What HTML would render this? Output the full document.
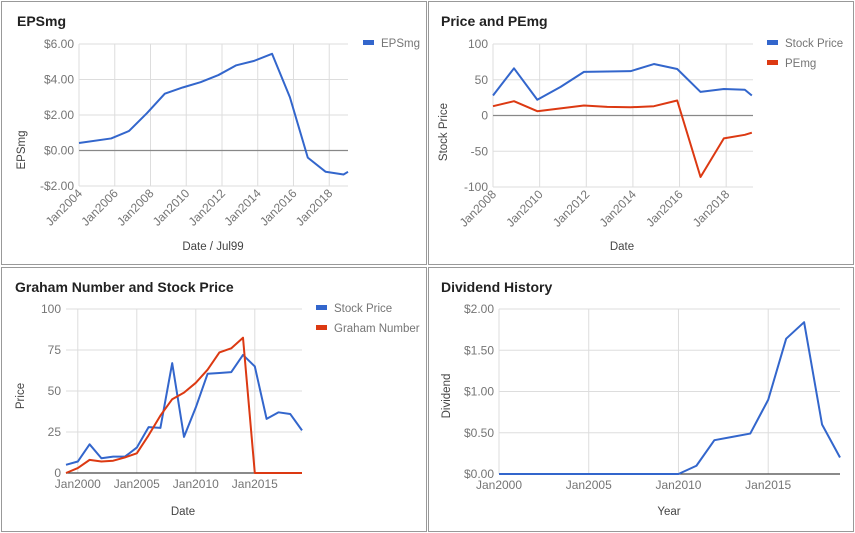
<!DOCTYPE html>
<html><head><meta charset="utf-8"><style>
body{margin:0;background:#fff;}
svg{display:block;font-family:"Liberation Sans",Arial,sans-serif;}
.tick{font-size:12px;fill:#757575;}
.ttl{font-size:14px;font-weight:bold;fill:#222;}
.atl{font-size:11.5px;fill:#444;}
.leg{font-size:11.5px;fill:#757575;}
</style></head><body>
<svg id="c" width="855" height="533"></svg>
<script>
// EPSmg chart
const epsYears=[2004.0,2005.8,2006.8,2007.8,2008.8,2009.8,2010.8,2011.8,2012.8,2013.8,2014.8,2015.8,2016.8,2017.8,2018.8,2019.05];
const epsValues=[0.42,0.68,1.1,2.1,3.2,3.55,3.85,4.25,4.8,5.05,5.45,3.0,-0.4,-1.2,-1.35,-1.2];
const epsTicksY=[-2,0,2,4,6];
const epsTickLabelsY=["-$2.00","$0.00","$2.00","$4.00","$6.00"];
const epsTicksX=[2004,2006,2008,2010,2012,2014,2016,2018];
// Price & PE chart
const ppYears=[2008.0,2008.9,2009.9,2010.9,2011.9,2013.9,2014.9,2015.9,2016.9,2017.9,2018.8,2019.1];
const ppPrice=[28,66,22,40,61,62,72,65,33,37,36,28];
const pePeYears=[2008.0,2008.9,2009.9,2010.9,2011.9,2012.9,2013.9,2014.9,2015.9,2016.9,2017.9,2018.8,2019.1];
const pePe=[13,20,6,10,14,12,11.5,13,21,-86,-32,-27,-24];
const ppTicksY=[-100,-50,0,50,100];
const ppTicksX=[2008,2010,2012,2014,2016,2018];
// Graham chart
const grYears=[1999,2000,2001,2002,2003,2004,2005,2006,2007,2008,2009,2010,2011,2012,2013,2014,2015,2016,2017,2018,2019];
const grPrice=[5,7,17.5,9,10,10,15.5,28,27.5,67,22,40,60.5,61,61.5,72,65,33,37,36,26];
const grGraham=[0,3,8,7,7.5,9.5,12,23,35,45,49,55,63,73.5,76,82.5,0,0,0,0,0];
const grTicksY=[0,25,50,75,100];
const grTicksX=[2000,2005,2010,2015];
// Dividend chart
const dvYears=[2000,2001,2002,2003,2004,2005,2006,2007,2008,2009,2010,2011,2012,2013,2014,2015,2016,2017,2018,2019];
const dvValues=[0,0,0,0,0,0,0,0,0,0,0,0.1,0.41,0.45,0.49,0.9,1.64,1.84,0.6,0.2];
const dvTicksY=[0,0.5,1,1.5,2];
const dvTickLabelsY=["$0.00","$0.50","$1.00","$1.50","$2.00"];
const dvTicksX=[2000,2005,2010,2015];

const NS="http://www.w3.org/2000/svg";
const svg=document.getElementById('c');
function mk(tag,at,parent,txt){const e=document.createElementNS(NS,tag);for(const k in at)e.setAttribute(k,at[k]);if(txt!==undefined)e.textContent=txt;(parent||svg).appendChild(e);return e;}
function axis(x0,x1,d0,d1){return v=>x0+(v-d0)/(d1-d0)*(x1-x0);}

function panel(o){
  const g=mk('g',{});
  
  
  const t=mk('text',{x:o.ox+15,y:o.oy+26,class:'ttl'},g,o.title);
  
  
  const sx=axis(o.px0,o.px1,o.d0,o.d1), sy=axis(o.py0,o.py1,o.v0,o.v1);
  o.ticksY.forEach((v,i)=>{
    const l=mk('line',{x1:o.px0,x2:o.px1,y1:sy(v),y2:sy(v),stroke:'#ddd','stroke-width':1},g);
    
    
    const lb=mk('text',{x:o.px0-5,y:sy(v)+4,'text-anchor':'end',class:'tick'},g,o.labY?o.labY[i]:String(v));
    
    
  });
  o.ticksX.forEach(v=>{
    const x=sx(v);
    const l=mk('line',{x1:x,x2:x,y1:o.py1,y2:o.py0,stroke:'#ddd'},g);
    
    
    let lb;
    if(o.rot){lb=mk('text',{x:x+4,y:o.py0+8,'text-anchor':'end',class:'tick',transform:`rotate(-45 ${x+4} ${o.py0+8})`},g,'Jan'+v);}
    else{lb=mk('text',{x:x,y:o.py0+15,'text-anchor':'middle',class:'tick'},g,'Jan'+v);}
    
    
  });
  const b=mk('line',{x1:o.px0,x2:o.px1,y1:sy(0),y2:sy(0),stroke:o.baseColor,'stroke-width':1.3},g);
  
  
  o.series.forEach((s,si)=>{
    const p=mk('polyline',{points:s.xs.map((x,i)=>sx(x)+','+sy(s.ys[i])).join(' '),fill:'none',stroke:s.color,'stroke-width':2,'stroke-linejoin':'round'},g);
    
    
    if(o.legX){
      const r=mk('rect',{x:o.legX,y:o.legY+si*20-3,width:11,height:5,fill:s.color},g);
      
      
      const lt=mk('text',{x:o.legX+18,y:o.legY+si*20+4,class:'leg'},g,s.label);
      
      
    }
  });
  const yt=mk('text',{x:o.ytx,y:o.yty,'text-anchor':'middle',class:'atl',transform:`rotate(-90 ${o.ytx} ${o.yty})`},g,o.yTitle);
  
  
  const xt=mk('text',{x:o.xtx,y:o.xty,'text-anchor':'middle',class:'atl'},g,o.xTitle);
  
  
}
const B='#3366cc',R='#dc3912';
[[1,1,426,264],[428,1,426,264],[1,267,426,265],[428,267,426,265]].forEach(b=>{
  const r=mk('rect',{x:b[0]+0.5,y:b[1]+0.5,width:b[2]-1,height:b[3]-1,fill:'none',stroke:'#999'});
  
  
});
panel({name:'epsmg-chart',title:'EPSmg',ox:2,oy:0,px0:79,px1:348,d0:2004,d1:2019.05,py0:186,py1:44,v0:-2,v1:6,
  ticksY:epsTicksY,labY:epsTickLabelsY,ticksX:epsTicksX,rot:true,baseColor:'#888',
  series:[{xs:epsYears,ys:epsValues,color:B,label:'EPSmg'}],legX:363,legY:43,
  ytx:25,yty:150,yTitle:'EPSmg',xtx:213,xty:250,xTitle:'Date / Jul99'});
panel({name:'price-pemg-chart',title:'Price and PEmg',ox:426,oy:0,px0:493,px1:753,d0:2008,d1:2019.15,py0:187,py1:44,v0:-100,v1:100,
  ticksY:ppTicksY,ticksX:ppTicksX,rot:true,baseColor:'#888',
  series:[{xs:ppYears,ys:ppPrice,color:B,label:'Stock Price'},{xs:pePeYears,ys:pePe,color:R,label:'PEmg'}],legX:767,legY:43,
  ytx:447,yty:132,yTitle:'Stock Price',xtx:622,xty:250,xTitle:'Date'});
panel({name:'graham-chart',title:'Graham Number and Stock Price',ox:0,oy:266,px0:66,px1:302,d0:1999,d1:2019,py0:473,py1:309,v0:0,v1:100,
  ticksY:grTicksY,ticksX:grTicksX,rot:false,baseColor:'#444',
  series:[{xs:grYears,ys:grPrice,color:B,label:'Stock Price'},{xs:grYears,ys:grGraham,color:R,label:'Graham Number'}],legX:316,legY:308,
  ytx:24,yty:396,yTitle:'Price',xtx:183,xty:515,xTitle:'Date'});
panel({name:'dividend-chart',title:'Dividend History',ox:426,oy:266,px0:499,px1:840,d0:2000,d1:2019,py0:474,py1:309,v0:0,v1:2,
  ticksY:dvTicksY,labY:dvTickLabelsY,ticksX:dvTicksX,rot:false,baseColor:'#444',
  series:[{xs:dvYears,ys:dvValues,color:B,label:'Dividend'}],
  ytx:450,yty:396,yTitle:'Dividend',xtx:669,xty:515,xTitle:'Year'});
</script>
</body></html>
